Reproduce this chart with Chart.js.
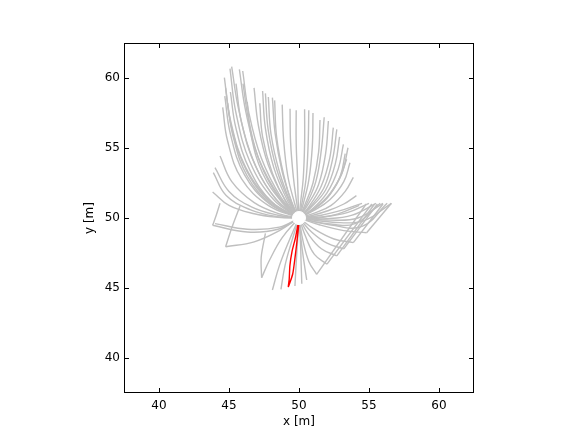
<!DOCTYPE html>
<html>
<head>
<meta charset="utf-8">
<script src="https://cdn.jsdelivr.net/npm/chart.js@4"></script>
<style>
  html, body { margin: 0; padding: 0; background: #fff; }
  canvas { display: block; }
</style>
</head>
<body>
<canvas id="chart" width="584" height="438"></canvas>
<script>
const xTicks = [40, 45, 50, 55, 60];
const yTicks = [40, 45, 50, 55, 60];
const target = [50, 50];

// paths coming down from the upper left
const fanLeft = [
  [[44.36, 54.43], [45.2, 52.6], [46.8, 51.1], [48.6, 50.3], [50, 50]],
  [[44.0, 53.6], [45.0, 51.9], [46.6, 50.8], [48.5, 50.2], [50, 50]],
  [[43.88, 53.24], [44.8, 51.6], [46.5, 50.6], [48.4, 50.1], [50, 50]],
  [[43.83, 51.86], [45.0, 50.9], [46.8, 50.3], [48.5, 50.05], [50, 50]],
  [[44.55, 57.9], [44.9, 55.5], [45.9, 52.8], [47.8, 50.9], [50, 50]],
  [[44.9, 58.2], [45.3, 55.8], [46.3, 53.0], [48.0, 51.0], [50, 50]],
  [[44.7, 58.7], [45.1, 56.0], [46.1, 53.1], [47.9, 51.0], [50, 50]],
  [[44.76, 59.3], [45.2, 56.4], [46.3, 53.3], [48.0, 51.1], [50, 50]],
  [[44.67, 60.02], [45.1, 57.0], [46.2, 53.6], [48.0, 51.2], [50, 50]],
  [[45.07, 60.67], [45.5, 57.5], [46.5, 54.0], [48.2, 51.3], [50, 50]],
  [[45.19, 60.81], [45.7, 57.7], [46.7, 54.2], [48.3, 51.4], [50, 50]],
  [[45.74, 60.62], [46.2, 57.6], [47.1, 54.3], [48.6, 51.5], [50, 50]],
  [[45.98, 60.5], [46.4, 57.6], [47.3, 54.3], [48.7, 51.5], [50, 50]],
  [[46.0, 59.6], [46.4, 57.0], [47.2, 54.0], [48.6, 51.4], [50, 50]],
  [[45.5, 59.6], [45.9, 56.8], [46.9, 53.7], [48.4, 51.3], [50, 50]],
  [[45.1, 59.0], [45.5, 56.4], [46.5, 53.4], [48.1, 51.1], [50, 50]],
  [[46.3, 58.3], [46.6, 55.8], [47.4, 53.2], [48.8, 51.1], [50, 50]],
  [[46.79, 59.3], [47.1, 56.6], [47.8, 53.8], [49.0, 51.3], [50, 50]],
  [[47.2, 58.2], [47.4, 55.8], [48.1, 53.2], [49.1, 51.1], [50, 50]],
  [[47.4, 59.07], [47.6, 56.4], [48.2, 53.6], [49.2, 51.2], [50, 50]],
  [[47.6, 58.9], [47.8, 56.3], [48.4, 53.5], [49.3, 51.2], [50, 50]],
  [[47.81, 58.64], [48.0, 56.0], [48.6, 53.3], [49.4, 51.1], [50, 50]],
  [[48.1, 58.6], [48.3, 56.0], [48.8, 53.3], [49.5, 51.1], [50, 50]],
  [[48.26, 58.4], [48.4, 55.8], [48.9, 53.1], [49.5, 51.0], [50, 50]],
  [[48.8, 58.1], [48.9, 55.6], [49.2, 53.0], [49.7, 51.0], [50, 50]],
  [[49.36, 57.8], [49.4, 55.4], [49.6, 52.9], [49.85, 51.0], [50, 50]],
  [[49.8, 57.7], [49.8, 55.3], [49.9, 52.8], [49.95, 51.0], [50, 50]]
];

// paths coming down from the upper right
const fanRight = [
  [[50.4, 57.76], [50.4, 55.3], [50.3, 52.8], [50.1, 51.0], [50, 50]],
  [[50.7, 57.7], [50.65, 55.2], [50.5, 52.75], [50.2, 51.0], [50, 50]],
  [[51.0, 57.5], [50.95, 55.1], [50.7, 52.7], [50.3, 51.0], [50, 50]],
  [[51.5, 57.0], [51.4, 54.7], [51.0, 52.5], [50.4, 50.9], [50, 50]],
  [[51.8, 57.2], [51.6, 54.9], [51.2, 52.6], [50.5, 50.9], [50, 50]],
  [[52.1, 56.93], [51.9, 54.6], [51.4, 52.4], [50.6, 50.9], [50, 50]],
  [[52.45, 56.45], [52.2, 54.3], [51.6, 52.3], [50.7, 50.8], [50, 50]],
  [[52.7, 56.33], [52.4, 54.2], [51.8, 52.2], [50.8, 50.8], [50, 50]],
  [[52.9, 55.8], [52.6, 53.9], [51.9, 52.0], [50.8, 50.7], [50, 50]],
  [[53.17, 55.26], [52.8, 53.5], [52.0, 51.8], [50.9, 50.6], [50, 50]],
  [[53.5, 55.02], [53.1, 53.3], [52.2, 51.7], [51.0, 50.6], [50, 50]],
  [[53.3, 54.6], [52.95, 53.0], [52.1, 51.6], [51.0, 50.6], [50, 50]],
  [[53.4, 54.2], [52.9, 52.8], [52.0, 51.4], [50.95, 50.55], [50, 50]],
  [[53.64, 53.95], [53.2, 52.6], [52.2, 51.3], [51.0, 50.5], [50, 50]],
  [[53.88, 52.9], [53.3, 51.9], [52.3, 50.9], [51.1, 50.35], [50, 50]],
  [[54.1, 51.6], [53.2, 51.0], [52.0, 50.5], [51.0, 50.2], [50, 50]]
];

// paths coming in from the right
const sideRight = [
  [[54.3, 50.9], [52.8, 50.3], [51.4, 50.0], [50, 50]],
  [[54.5, 51.05], [53.2, 50.6], [51.6, 50.2], [50, 50]],
  [[55.0, 51.05], [53.5, 50.4], [51.8, 50.1], [50, 50]],
  [[55.5, 51.05], [53.8, 50.2], [52.0, 49.95], [50, 50]],
  [[55.8, 51.05], [54.0, 49.6], [52.0, 49.6], [50, 50]],
  [[56.0, 51.05], [54.2, 50.0], [52.2, 49.85], [50, 50]],
  [[56.3, 51.05], [54.5, 49.4], [52.3, 49.5], [50, 50]],
  [[56.6, 51.05], [54.6, 49.8], [52.4, 49.7], [50, 50]]
];

// straight legs on the lower right, then the turn back to the target
const kinkLegs = [
  [[56.6, 51.05], [54.83, 48.95]],
  [[56.0, 51.0], [53.88, 48.24]],
  [[55.6, 51.0], [53.2, 47.8]],
  [[55.4, 51.0], [52.7, 47.3]],
  [[55.2, 51.0], [52.0, 46.7]],
  [[54.8, 51.0], [51.26, 45.98]]
];
const kinkTurns = [
  [[54.83, 48.95], [53.2, 49.1], [51.5, 49.5], [50, 50]],
  [[53.88, 48.24], [52.5, 48.5], [51.1, 49.2], [50, 50]],
  [[53.2, 47.8], [52.0, 48.2], [50.9, 49.0], [50, 50]],
  [[52.7, 47.3], [51.6, 47.8], [50.7, 48.8], [50, 50]],
  [[52.0, 46.7], [51.1, 47.4], [50.5, 48.6], [50, 50]],
  [[51.26, 45.98], [50.7, 46.9], [50.3, 48.3], [50, 50]],
  [[50.55, 45.57], [50.35, 46.9], [50.15, 48.4], [50, 50]]
];

// paths coming up from below
const fanBottom = [
  [[47.33, 45.74], [47.9, 47.0], [48.8, 48.6], [50, 50]],
  [[48.1, 44.86], [48.6, 46.6], [49.3, 48.4], [50, 50]],
  [[48.71, 44.9], [49.0, 46.6], [49.5, 48.4], [50, 50]],
  [[49.71, 45.14], [49.8, 46.8], [49.9, 48.4], [50, 50]],
  [[50.2, 45.3], [50.15, 46.8], [50.1, 48.4], [50, 50]]
];

// hooks on the left side
const leftLegs = [
  [[44.36, 51.05], [44.07, 50.14], [43.83, 49.48]],
  [[45.79, 50.86], [45.2, 49.3], [44.76, 47.95]],
  [[47.33, 45.74], [47.3, 47.2], [47.6, 48.9]]
];
const leftTurns = [
  [[43.83, 49.48], [46.3, 49.0], [48.5, 49.2], [50, 50]],
  [[44.0, 49.6], [46.3, 49.2], [48.6, 49.35], [50, 50]],
  [[44.76, 47.95], [46.8, 48.3], [48.6, 49.1], [50, 50]]
];

// highlighted path, a narrow loop below the target
const redPath = [
  [49.98, 49.5], [49.85, 48.3], [49.72, 47.2], [49.55, 46.0], [49.24, 45.1],
  [49.3, 45.6], [49.35, 46.6], [49.5, 47.6], [49.75, 48.6], [49.92, 49.5]
];

const grey = "#bfbfbf";
const toPts = (path) => path.map(([x, y]) => ({ x, y }));

function greyLines(paths, tension) {
  return paths.map((p) => ({
    data: toPts(p),
    showLine: true,
    borderColor: grey,
    borderWidth: 1.4,
    pointRadius: 0,
    tension: tension,
    order: 0
  }));
}

const datasets = [
  {
    data: [{ x: target[0], y: target[1] }],
    pointRadius: 6.5,
    pointBackgroundColor: "#fff",
    pointBorderColor: "#fff",
    order: -2
  },
  {
    data: toPts(redPath),
    showLine: true,
    borderColor: "#ff0000",
    borderWidth: 1.4,
    pointRadius: 0,
    tension: 0.2,
    order: -1
  },
  ...greyLines(fanLeft, 0.4),
  ...greyLines(fanRight, 0.4),
  ...greyLines(sideRight, 0.4),
  ...greyLines(kinkLegs, 0),
  ...greyLines(kinkTurns, 0.4),
  ...greyLines(fanBottom, 0.4),
  ...greyLines(leftLegs, 0.3),
  ...greyLines(leftTurns, 0.4)
];

// inward ticks and black frame, like the old matplotlib look
const frame = {
  id: "frame",
  afterDraw(chart) {
    const { ctx, chartArea: a, scales } = chart;
    ctx.save();
    ctx.strokeStyle = "#000";
    ctx.lineWidth = 1;
    ctx.strokeRect(a.left + 0.5, a.top + 0.5, a.right - a.left - 1, a.bottom - a.top - 1);
    ctx.beginPath();
    xTicks.forEach((v) => {
      const px = Math.round(scales.x.getPixelForValue(v)) + 0.5;
      ctx.moveTo(px, a.bottom);
      ctx.lineTo(px, a.bottom - 5);
      ctx.moveTo(px, a.top);
      ctx.lineTo(px, a.top + 5);
    });
    yTicks.forEach((v) => {
      const py = Math.round(scales.y.getPixelForValue(v)) + 0.5;
      ctx.moveTo(a.left, py);
      ctx.lineTo(a.left + 5, py);
      ctx.moveTo(a.right, py);
      ctx.lineTo(a.right - 5, py);
    });
    ctx.stroke();
    ctx.restore();
  }
};

const font = { family: "DejaVu Sans", size: 12 };

new Chart(document.getElementById("chart"), {
  type: "scatter",
  data: { datasets },
  options: {
    responsive: false,
    animation: false,
    layout: { padding: { left: 0, right: 110, top: 43, bottom: 0 } },
    plugins: { legend: { display: false }, tooltip: { enabled: false } },
    scales: {
      x: {
        type: "linear",
        min: 37.5,
        max: 62.5,
        afterBuildTicks: (s) => { s.ticks = xTicks.map((v) => ({ value: v })); },
        afterFit: (s) => { s.height = 45; },
        grid: { display: false, drawTicks: false },
        border: { display: false },
        ticks: { color: "#000", font, padding: 6 },
        title: { display: true, text: "x [m]", color: "#000", font, padding: { top: 0, bottom: 9 } }
      },
      y: {
        type: "linear",
        min: 37.5,
        max: 62.5,
        afterBuildTicks: (s) => { s.ticks = yTicks.map((v) => ({ value: v })); },
        afterFit: (s) => { s.width = 124; },
        grid: { display: false, drawTicks: false },
        border: { display: false },
        ticks: { color: "#000", font, padding: 4 },
        title: { display: true, text: "y [m]", color: "#000", font, padding: { top: 83, bottom: 0 } }
      }
    }
  },
  plugins: [frame]
});
</script>
</body>
</html>
